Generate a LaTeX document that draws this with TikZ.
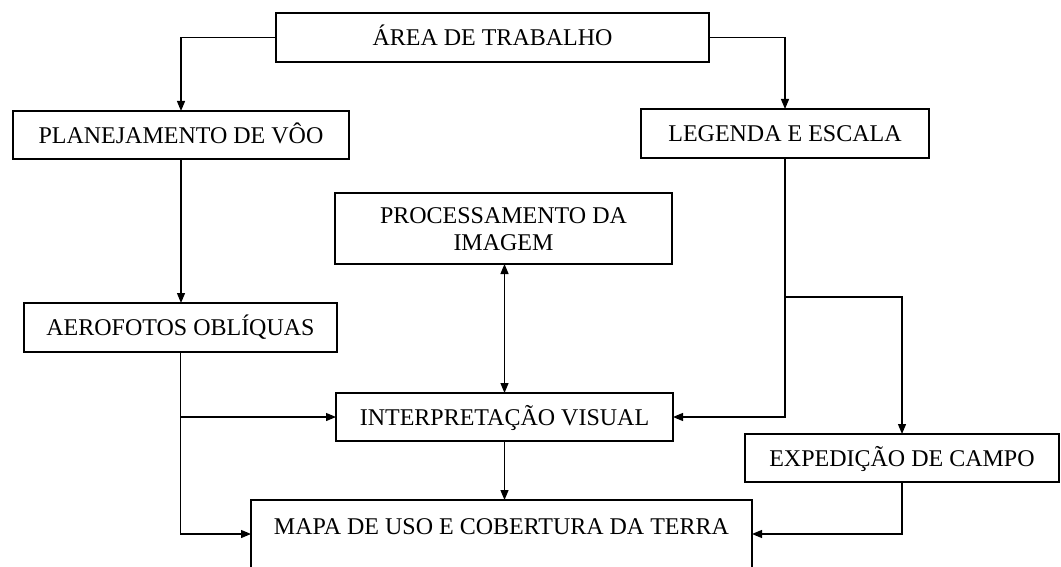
\documentclass[tikz,border=0pt]{standalone}
\usepackage{fontspec}
\setmainfont{Liberation Serif}
\usetikzlibrary{arrows.meta}

\begin{document}
\begin{tikzpicture}[x = .75pt, y = -.75pt, >= {Triangle[length=7.5pt, width=6pt]},
    caixa/.style = {draw = black, line width = 1pt, inner sep = 0pt, outer sep = 0pt,
        font = \fontsize{18}{20.25}\selectfont, text height = 12pt, text depth = 0pt},
    seta/.style = {line width = .9pt, ->}]
    \useasboundingbox (0, 0) rectangle (1061, 567);
    \clip (0, 0) rectangle (1061, 567);

    \node [caixa, minimum width = 324.75pt, minimum height = 36.75pt] (area) at (492.5, 37.5) {ÁREA DE TRABALHO};
    \node [caixa, minimum width = 252pt, minimum height = 36pt] (plan) at (181, 135) {PLANEJAMENTO DE VÔO};
    \node [caixa, minimum width = 216pt, minimum height = 36.75pt] (leg) at (785, 133.5) {LEGENDA E ESCALA};
    \node [caixa, minimum width = 252.75pt, minimum height = 53.25pt, align = center,
        text height = 32.25pt, text depth = 0pt] (proc) at (503.5, 228.5) {PROCESSAMENTO DA\\IMAGEM};
    \node [caixa, minimum width = 234.75pt, minimum height = 36.75pt] (aero) at (180.5, 327.5) {AEROFOTOS OBLÍQUAS};
    \node [caixa, minimum width = 252.75pt, minimum height = 36pt] (interp) at (504.5, 417) {INTERPRETAÇÃO VISUAL};
    \node [caixa, minimum width = 235.5pt, minimum height = 36pt] (exped) at (902, 458) {EXPEDIÇÃO DE CAMPO};
    \node [caixa, minimum width = 375.75pt, inner ysep = 13.5pt, text depth = 60pt, anchor = north] (mapa) at (501.5, 500) {MAPA DE USO E COBERTURA DA TERRA};

    %%%%%%%%%%%%%%%%%%%%
    \coordinate (div) at (785, 297);

    \draw [seta] (area.west) -| (plan.north);
    \draw [seta] (area.east) -| (leg.north);
    \draw [seta] (plan.south) -- (plan.south |- aero.north);
    \draw [seta] (aero.south) |- (interp.west);
    \draw [seta] (aero.south) |- (mapa.base west);
    \draw [line width = .9pt, <->] (interp.north |- proc.south) -- (interp.north);
    \draw [seta] (leg.south) |- (interp.east);
    \draw [seta] (div) -| (exped.north);
    \draw [seta] (interp.south) -- (interp.south |- mapa.north);
    \draw [seta] (exped.south) |- (mapa.base east);
\end{tikzpicture}
\end{document}
